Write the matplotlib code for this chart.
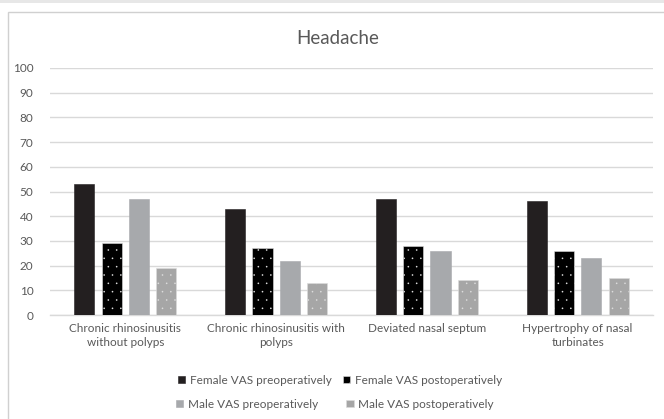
"""Grouped bar chart: headache VAS scores before/after surgery by diagnosis."""

import matplotlib.pyplot as plt
import numpy as np
from matplotlib.patches import Rectangle

plt.rcParams["font.family"] = ["Lato", "DejaVu Sans"]
plt.rcParams["hatch.linewidth"] = 0.0

categories = [
    "Chronic rhinosinusitis\nwithout polyps",
    "Chronic rhinosinusitis with\npolyps",
    "Deviated nasal septum",
    "Hypertrophy of nasal\nturbinates",
]
female_pre = [53, 43, 47, 46]
female_post = [29, 27, 28, 26]
male_pre = [47, 22, 26, 23]
male_post = [19, 13, 14, 15]

series_names = [
    "Female VAS preoperatively",
    "Female VAS postoperatively",
    "Male VAS preoperatively",
    "Male VAS postoperatively",
]
TEXT = "#595959"
GRID = "#d9d9d9"


def main() -> None:
    fig = plt.figure(figsize=(6.64, 4.19), dpi=100)
    fig.patch.set_facecolor("white")

    # grey strip at the top and chart frame (runs off right/bottom edge)
    fig.patches.append(Rectangle((0, 1 - 3 / 419), 1, 3 / 419, transform=fig.transFigure,
                                 facecolor="#e7e7e7", edgecolor="none", zorder=0))
    fig.patches.append(Rectangle((8 / 664, -0.05), 1.0, 1 - 12 / 419 + 0.05,
                                 transform=fig.transFigure, facecolor="none",
                                 edgecolor="#d0d0d0", linewidth=1.0, zorder=0))

    ax = fig.add_axes([50 / 664, 1 - 315 / 419, 603 / 664, 247 / 419])

    x = np.arange(len(categories))
    width = 0.133
    pitch = 0.181
    series = [female_pre, female_post, male_pre, male_post]
    styles = [
        dict(color="#231f20", hatch=None),
        dict(color="#000000", hatch=".."),
        dict(color="#a7a9ac", hatch=None),
        dict(color="#a6a6a6", hatch=".."),
    ]
    handles = []
    for i, (vals, st) in enumerate(zip(series, styles)):
        offs = (i - 1.5) * pitch
        bars = ax.bar(x + offs, vals, width, facecolor=st["color"],
                      edgecolor="#dcdcdc" if st["hatch"] else st["color"],
                      linewidth=0.4, hatch=st["hatch"], label=series_names[i], zorder=3)
        handles.append(bars)

    ax.set_xlim(-0.5, len(categories) - 0.5)
    ax.set_ylim(0, 100)
    ax.set_yticks(np.arange(0, 101, 10))
    ax.set_xticks(x)
    ax.set_xticklabels(categories, fontsize=8.5, color=TEXT, linespacing=1.25)
    ax.tick_params(axis="y", length=0, pad=12, labelsize=8.5, labelcolor=TEXT)
    ax.tick_params(axis="x", length=0, pad=6)
    ax.grid(axis="y", color=GRID, linewidth=1.0, zorder=0)
    for s in ["top", "right", "left"]:
        ax.spines[s].set_visible(False)
    ax.spines["bottom"].set_color(GRID)
    ax.spines["bottom"].set_linewidth(1.0)

    fig.text(338 / 664, 1 - 38 / 419, "Headache", ha="center", va="center",
             fontsize=13.5, color=TEXT)

    # two single-row legends, Excel style
    leg_kw = dict(ncol=2, frameon=False, fontsize=8.5, labelcolor=TEXT,
                  handlelength=0.6, handleheight=0.6, handletextpad=0.4,
                  columnspacing=1.0, loc="center", borderaxespad=0)
    fig.legend([handles[0], handles[1]], series_names[:2],
               bbox_to_anchor=(340 / 664, 1 - 380 / 419), **leg_kw)
    fig.legend([handles[2], handles[3]], series_names[2:],
               bbox_to_anchor=(335 / 664, 1 - 404 / 419), **dict(leg_kw, columnspacing=2.4))

    fig.savefig("out.png", dpi=100)
    plt.close(fig)


if __name__ == "__main__":
    main()
